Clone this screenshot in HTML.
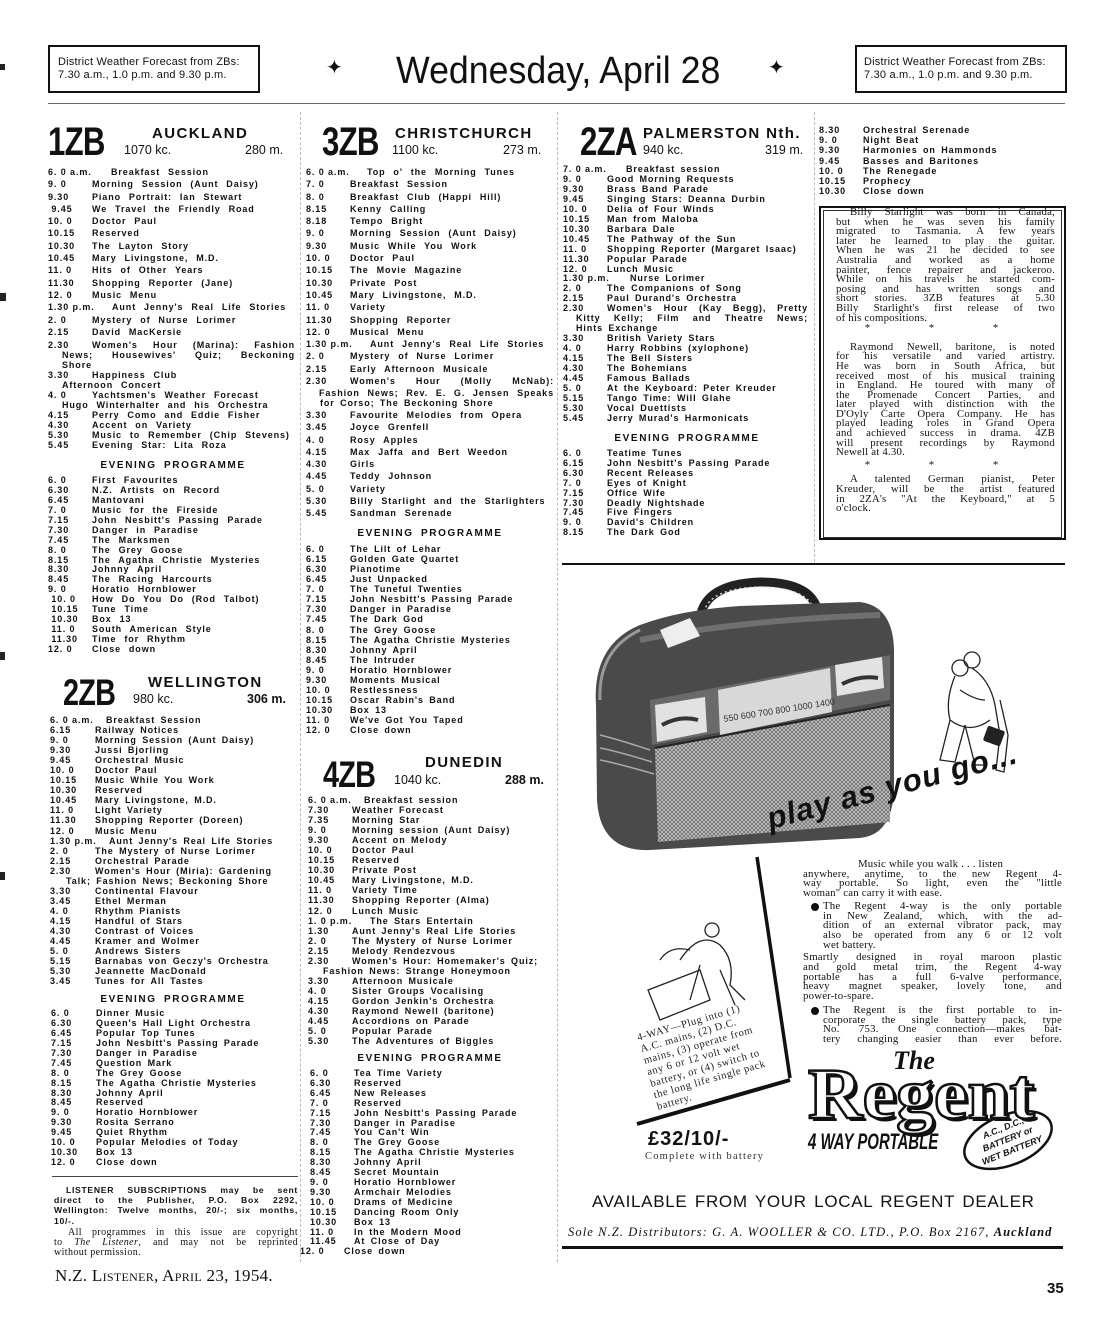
<!DOCTYPE html>
<html><head><meta charset="utf-8"><style>
body{margin:0;background:#fff}
#p{position:relative;width:1114px;height:1344px;overflow:hidden;background:#fff;color:#111;font-family:"Liberation Sans",sans-serif}
.a{position:absolute;white-space:nowrap}
.L{position:absolute;font-weight:bold;font-size:9px;letter-spacing:.9px;word-spacing:2px;white-space:nowrap;color:#111}
.L i{font-style:normal;display:inline-block;width:44px;word-spacing:0}
.w4{word-spacing:4.5px}
.j{text-align:justify;text-align-last:justify;white-space:normal}
.eh{position:absolute;font-weight:bold;font-size:10px;letter-spacing:1.6px;word-spacing:3px;text-align:center}
.big{position:absolute;font-weight:bold;font-size:40px;line-height:40px;transform-origin:0 0;transform:scaleX(.78);letter-spacing:-1px}
.city{position:absolute;font-weight:bold;font-size:15px;letter-spacing:1.4px;line-height:15px}
.kc{position:absolute;font-size:12.5px;line-height:13px}
.S{position:absolute;font-family:"Liberation Serif",serif;font-size:10.8px;letter-spacing:.2px;line-height:9.6px;color:#111}
.S div{text-align:justify;text-align-last:justify;white-space:nowrap}
.S div.e{text-align-last:left}
.st{text-align:center!important;text-align-last:center!important;letter-spacing:28px}
.T{position:absolute;font-family:"Liberation Serif",serif;font-size:10.8px;letter-spacing:.2px;line-height:9.7px;color:#111}
.T div{text-align:justify;text-align-last:justify;white-space:nowrap}
.T div.e{text-align-last:left}
</style></head><body><div id="p">

<div class="a" style="left:0;top:64px;width:5px;height:6px;background:#222"></div>
<div class="a" style="left:0;top:293px;width:6px;height:8px;background:#222"></div>
<div class="a" style="left:0;top:652px;width:5px;height:8px;background:#222"></div>
<div class="a" style="left:0;top:872px;width:5px;height:8px;background:#222"></div>

<!-- header -->
<div class="a" style="left:48px;top:45px;width:208px;height:44px;border:2px solid #111"></div>
<div class="a" style="left:58px;top:56px;font-size:11px;line-height:13px;letter-spacing:.2px">District Weather Forecast from ZBs:<br>7.30 a.m., 1.0 p.m. and 9.30 p.m.</div>
<div class="a" style="left:855px;top:45px;width:208px;height:44px;border:2px solid #111"></div>
<div class="a" style="left:864px;top:56px;font-size:11px;line-height:13px;letter-spacing:.2px">District Weather Forecast from ZBs:<br>7.30 a.m., 1.0 p.m. and 9.30 p.m.</div>
<div class="a" style="left:326px;top:55px;font-size:20px">&#10022;</div>
<div class="a" style="left:768px;top:55px;font-size:20px">&#10022;</div>
<div class="a" style="left:396px;top:50px;font-size:38px;line-height:42px;transform-origin:0 0;transform:scaleX(.94)">Wednesday, April 28</div>
<div class="a" style="left:48px;top:103px;width:1017px;height:1px;background:#666"></div>

<div class="a" style="left:300px;top:112px;width:1px;height:1150px;border-left:1px dashed #bbb"></div>
<div class="a" style="left:557px;top:112px;width:1px;height:1150px;border-left:1px dashed #bbb"></div>
<div class="a" style="left:814px;top:112px;width:1px;height:450px;border-left:1px dashed #bbb"></div>

<!-- 1ZB -->
<div class="big" style="left:48px;top:122px">1ZB</div>
<div class="city" style="left:152px;top:126px">AUCKLAND</div>
<div class="kc" style="left:124px;top:144px">1070 kc.</div>
<div class="kc" style="left:245px;top:144px">280 m.</div>
<div class="L w4" style="left:48px;top:166px;line-height:12.3px">
<div><i style="width:63px">6. 0 a.m.</i>Breakfast Session</div>
<div><i>9. 0</i>Morning Session (Aunt Daisy)</div>
<div><i>9.30</i>Piano Portrait: Ian Stewart</div>
<div><i>&nbsp;9.45</i>We Travel the Friendly Road</div>
<div><i>10. 0</i>Doctor Paul</div>
<div><i>10.15</i>Reserved</div>
<div><i>10.30</i>The Layton Story</div>
<div><i>10.45</i>Mary Livingstone, M.D.</div>
<div><i>11. 0</i>Hits of Other Years</div>
<div><i>11.30</i>Shopping Reporter (Jane)</div>
<div><i>12. 0</i>Music Menu</div>
<div><i style="width:64px">1.30 p.m.</i>Aunt Jenny's Real Life Stories</div>
<div><i>2. 0</i>Mystery of Nurse Lorimer</div>
<div><i>2.15</i>David MacKersie</div>
</div>
<div class="L w4" style="left:48px;top:340px;line-height:10px;width:247px">
<div class="j"><i>2.30</i>Women's Hour (Marina): Fashion</div>
<div class="j" style="padding-left:14px">News; Housewives' Quiz; Beckoning</div>
<div style="padding-left:14px">Shore</div>
<div><i>3.30</i>Happiness Club</div>
<div style="padding-left:14px">Afternoon Concert</div>
<div><i>4. 0</i>Yachtsmen's Weather Forecast</div>
<div style="padding-left:14px">Hugo Winterhalter and his Orchestra</div>
<div><i>4.15</i>Perry Como and Eddie Fisher</div>
<div><i>4.30</i>Accent on Variety</div>
<div><i>5.30</i>Music to Remember (Chip Stevens)</div>
<div><i>5.45</i>Evening Star: Lita Roza</div>
</div>
<div class="eh" style="left:48px;width:250px;top:460px">EVENING PROGRAMME</div>
<div class="L w4" style="left:48px;top:476px;line-height:9.94px">
<div><i>6. 0</i>First Favourites</div>
<div><i>6.30</i>N.Z. Artists on Record</div>
<div><i>6.45</i>Mantovani</div>
<div><i>7. 0</i>Music for the Fireside</div>
<div><i>7.15</i>John Nesbitt's Passing Parade</div>
<div><i>7.30</i>Danger in Paradise</div>
<div><i>7.45</i>The Marksmen</div>
<div><i>8. 0</i>The Grey Goose</div>
<div><i>8.15</i>The Agatha Christie Mysteries</div>
<div><i>8.30</i>Johnny April</div>
<div><i>8.45</i>The Racing Harcourts</div>
<div><i>9. 0</i>Horatio Hornblower</div>
<div><i>&nbsp;10. 0</i>How Do You Do (Rod Talbot)</div>
<div><i>&nbsp;10.15</i>Tune Time</div>
<div><i>&nbsp;10.30</i>Box 13</div>
<div><i>&nbsp;11. 0</i>South American Style</div>
<div><i>&nbsp;11.30</i>Time for Rhythm</div>
<div><i>12. 0</i>Close down</div>
</div>

<!-- 2ZB -->
<div class="big" style="left:63px;top:673px;font-size:37px">2ZB</div>
<div class="city" style="left:148px;top:675px">WELLINGTON</div>
<div class="kc" style="left:133px;top:693px">980 kc.</div>
<div class="kc" style="left:247px;top:693px;font-weight:bold">306 m.</div>
<div class="L" style="left:50px;top:715px;line-height:10.04px">
<div><i style="width:56px">6. 0 a.m.</i>Breakfast Session</div>
<div><i style="width:45px">6.15</i>Railway Notices</div>
<div><i style="width:45px">9. 0</i>Morning Session (Aunt Daisy)</div>
<div><i style="width:45px">9.30</i>Jussi Bjorling</div>
<div><i style="width:45px">9.45</i>Orchestral Music</div>
<div><i style="width:45px">10. 0</i>Doctor Paul</div>
<div><i style="width:45px">10.15</i>Music While You Work</div>
<div><i style="width:45px">10.30</i>Reserved</div>
<div><i style="width:45px">10.45</i>Mary Livingstone, M.D.</div>
<div><i style="width:45px">11. 0</i>Light Variety</div>
<div><i style="width:45px">11.30</i>Shopping Reporter (Doreen)</div>
<div><i style="width:45px">12. 0</i>Music Menu</div>
<div><i style="width:59px">1.30 p.m.</i>Aunt Jenny's Real Life Stories</div>
<div><i style="width:45px">2. 0</i>The Mystery of Nurse Lorimer</div>
<div><i style="width:45px">2.15</i>Orchestral Parade</div>
<div><i style="width:45px">2.30</i>Women's Hour (Miria): Gardening</div>
<div style="padding-left:16px">Talk; Fashion News; Beckoning Shore</div>
<div><i style="width:45px">3.30</i>Continental Flavour</div>
<div><i style="width:45px">3.45</i>Ethel Merman</div>
<div><i style="width:45px">4. 0</i>Rhythm Pianists</div>
<div><i style="width:45px">4.15</i>Handful of Stars</div>
<div><i style="width:45px">4.30</i>Contrast of Voices</div>
<div><i style="width:45px">4.45</i>Kramer and Wolmer</div>
<div><i style="width:45px">5. 0</i>Andrews Sisters</div>
<div><i style="width:45px">5.15</i>Barnabas von Geczy's Orchestra</div>
<div><i style="width:45px">5.30</i>Jeannette MacDonald</div>
<div><i style="width:45px">3.45</i>Tunes for All Tastes</div>
</div>
<div class="eh" style="left:48px;width:250px;top:994px">EVENING PROGRAMME</div>
<div class="L" style="left:51px;top:1009px;line-height:9.93px">
<div><i style="width:45px">6. 0</i>Dinner Music</div>
<div><i style="width:45px">6.30</i>Queen's Hall Light Orchestra</div>
<div><i style="width:45px">6.45</i>Popular Top Tunes</div>
<div><i style="width:45px">7.15</i>John Nesbitt's Passing Parade</div>
<div><i style="width:45px">7.30</i>Danger in Paradise</div>
<div><i style="width:45px">7.45</i>Question Mark</div>
<div><i style="width:45px">8. 0</i>The Grey Goose</div>
<div><i style="width:45px">8.15</i>The Agatha Christie Mysteries</div>
<div><i style="width:45px">8.30</i>Johnny April</div>
<div><i style="width:45px">8.45</i>Reserved</div>
<div><i style="width:45px">9. 0</i>Horatio Hornblower</div>
<div><i style="width:45px">9.30</i>Rosita Serrano</div>
<div><i style="width:45px">9.45</i>Quiet Rhythm</div>
<div><i style="width:45px">10. 0</i>Popular Melodies of Today</div>
<div><i style="width:45px">10.30</i>Box 13</div>
<div><i style="width:45px">12. 0</i>Close down</div>
</div>
<div class="a" style="left:52px;top:1176px;width:246px;height:1px;background:#444"></div>
<div class="L" style="left:54px;top:1185px;line-height:10.2px;width:244px;font-size:8.6px;letter-spacing:.7px">
<div class="j" style="padding-left:12px">LISTENER SUBSCRIPTIONS may be sent</div>
<div class="j">direct to the Publisher, P.O. Box 2292,</div>
<div class="j">Wellington: Twelve months, 20/-; six months,</div>
<div>10/-.</div>
</div>
<div class="S" style="left:54px;top:1228px;width:244px;font-size:10px;line-height:10px;letter-spacing:.4px">
<div style="padding-left:14px">All programmes in this issue are copyright</div>
<div>to <i>The Listener</i>, and may not be reprinted</div>
<div class="e">without permission.</div>
</div>
<div class="a" style="left:55px;top:1266px;font-family:'Liberation Serif',serif;font-size:17px;font-variant:small-caps;letter-spacing:.3px">N.Z. Listener, April 23, 1954.</div>

<!-- 3ZB -->
<div class="big" style="left:322px;top:122px">3ZB</div>
<div class="city" style="left:395px;top:126px">CHRISTCHURCH</div>
<div class="kc" style="left:392px;top:144px">1100 kc.</div>
<div class="kc" style="left:503px;top:144px">273 m.</div>
<div class="L w4" style="left:306px;top:166px;line-height:12.3px">
<div><i style="width:61px">6. 0 a.m.</i>Top o' the Morning Tunes</div>
<div><i>7. 0</i>Breakfast Session</div>
<div><i>8. 0</i>Breakfast Club (Happi Hill)</div>
<div><i>8.15</i>Kenny Calling</div>
<div><i>8.18</i>Tempo Bright</div>
<div><i>9. 0</i>Morning Session (Aunt Daisy)</div>
<div><i>9.30</i>Music While You Work</div>
<div><i>10. 0</i>Doctor Paul</div>
<div><i>10.15</i>The Movie Magazine</div>
<div><i>10.30</i>Private Post</div>
<div><i>10.45</i>Mary Livingstone, M.D.</div>
<div><i>11. 0</i>Variety</div>
<div><i>11.30</i>Shopping Reporter</div>
<div><i>12. 0</i>Musical Menu</div>
<div><i style="width:64px">1.30 p.m.</i>Aunt Jenny's Real Life Stories</div>
<div><i>2. 0</i>Mystery of Nurse Lorimer</div>
<div><i>2.15</i>Early Afternoon Musicale</div>
<div style="width:248px" class="j"><i>2.30</i>Women's Hour (Molly McNab):</div>
</div>
<div class="L" style="left:306px;top:388px;line-height:10px;width:248px">
<div class="j" style="padding-left:13px">Fashion News; Rev. E. G. Jensen Speaks</div>
<div style="padding-left:14px">for Corso; The Beckoning Shore</div>
</div>
<div class="L w4" style="left:306px;top:409px;line-height:12.3px">
<div><i>3.30</i>Favourite Melodies from Opera</div>
<div><i>3.45</i>Joyce Grenfell</div>
<div><i>4. 0</i>Rosy Apples</div>
<div><i>4.15</i>Max Jaffa and Bert Weedon</div>
<div><i>4.30</i>Girls</div>
<div><i>4.45</i>Teddy Johnson</div>
<div><i>5. 0</i>Variety</div>
<div><i>5.30</i>Billy Starlight and the Starlighters</div>
<div><i>5.45</i>Sandman Serenade</div>
</div>
<div class="eh" style="left:305px;width:250px;top:528px">EVENING PROGRAMME</div>
<div class="L" style="left:306px;top:544px;line-height:10.06px">
<div><i>6. 0</i>The Lilt of Lehar</div>
<div><i>6.15</i>Golden Gate Quartet</div>
<div><i>6.30</i>Pianotime</div>
<div><i>6.45</i>Just Unpacked</div>
<div><i>7. 0</i>The Tuneful Twenties</div>
<div><i>7.15</i>John Nesbitt's Passing Parade</div>
<div><i>7.30</i>Danger in Paradise</div>
<div><i>7.45</i>The Dark God</div>
<div><i>8. 0</i>The Grey Goose</div>
<div><i>8.15</i>The Agatha Christie Mysteries</div>
<div><i>8.30</i>Johnny April</div>
<div><i>8.45</i>The Intruder</div>
<div><i>9. 0</i>Horatio Hornblower</div>
<div><i>9.30</i>Moments Musical</div>
<div><i>10. 0</i>Restlessness</div>
<div><i>10.15</i>Oscar Rabin's Band</div>
<div><i>10.30</i>Box 13</div>
<div><i>11. 0</i>We've Got You Taped</div>
<div><i>12. 0</i>Close down</div>
</div>

<!-- 4ZB -->
<div class="big" style="left:323px;top:755px;font-size:37px">4ZB</div>
<div class="city" style="left:425px;top:755px">DUNEDIN</div>
<div class="kc" style="left:394px;top:774px">1040 kc.</div>
<div class="kc" style="left:505px;top:774px;font-weight:bold">288 m.</div>
<div class="L" style="left:308px;top:795px;line-height:10.04px">
<div><i style="width:56px">6. 0 a.m.</i>Breakfast session</div>
<div><i style="width:44px">7.30</i>Weather Forecast</div>
<div><i style="width:44px">7.35</i>Morning Star</div>
<div><i style="width:44px">9. 0</i>Morning session (Aunt Daisy)</div>
<div><i style="width:44px">9.30</i>Accent on Melody</div>
<div><i style="width:44px">10. 0</i>Doctor Paul</div>
<div><i style="width:44px">10.15</i>Reserved</div>
<div><i style="width:44px">10.30</i>Private Post</div>
<div><i style="width:44px">10.45</i>Mary Livingstone, M.D.</div>
<div><i style="width:44px">11. 0</i>Variety Time</div>
<div><i style="width:44px">11.30</i>Shopping Reporter (Alma)</div>
<div><i style="width:44px">12. 0</i>Lunch Music</div>
<div><i style="width:62px">1. 0 p.m.</i>The Stars Entertain</div>
<div><i style="width:44px">1.30</i>Aunt Jenny's Real Life Stories</div>
<div><i style="width:44px">2. 0</i>The Mystery of Nurse Lorimer</div>
<div><i style="width:44px">2.15</i>Melody Rendezvous</div>
<div><i style="width:44px">2.30</i>Women's Hour: Homemaker's Quiz;</div>
<div style="padding-left:15px">Fashion News: Strange Honeymoon</div>
<div><i style="width:44px">3.30</i>Afternoon Musicale</div>
<div><i style="width:44px">4. 0</i>Sister Groups Vocalising</div>
<div><i style="width:44px">4.15</i>Gordon Jenkin's Orchestra</div>
<div><i style="width:44px">4.30</i>Raymond Newell (baritone)</div>
<div><i style="width:44px">4.45</i>Accordions on Parade</div>
<div><i style="width:44px">5. 0</i>Popular Parade</div>
<div><i style="width:44px">5.30</i>The Adventures of Biggles</div>
</div>
<div class="eh" style="left:305px;width:250px;top:1053px">EVENING PROGRAMME</div>
<div class="L" style="left:310px;top:1069px;line-height:9.9px">
<div><i>6. 0</i>Tea Time Variety</div>
<div><i>6.30</i>Reserved</div>
<div><i>6.45</i>New Releases</div>
<div><i>7. 0</i>Reserved</div>
<div><i>7.15</i>John Nesbitt's Passing Parade</div>
<div><i>7.30</i>Danger in Paradise</div>
<div><i>7.45</i>You Can't Win</div>
<div><i>8. 0</i>The Grey Goose</div>
<div><i>8.15</i>The Agatha Christie Mysteries</div>
<div><i>8.30</i>Johnny April</div>
<div><i>8.45</i>Secret Mountain</div>
<div><i>9. 0</i>Horatio Hornblower</div>
<div><i>9.30</i>Armchair Melodies</div>
<div><i>10. 0</i>Drams of Medicine</div>
<div><i>10.15</i>Dancing Room Only</div>
<div><i>10.30</i>Box 13</div>
<div><i>11. 0</i>In the Modern Mood</div>
<div><i>11.45</i>At Close of Day</div>
<div style="margin-left:-10px"><i style="width:44px">12. 0</i>Close down</div>
</div>

<!-- 2ZA -->
<div class="big" style="left:580px;top:122px">2ZA</div>
<div class="city" style="left:643px;top:126px">PALMERSTON Nth.</div>
<div class="kc" style="left:643px;top:144px">940 kc.</div>
<div class="kc" style="left:765px;top:144px">319 m.</div>
<div class="L" style="left:563px;top:165px;line-height:9.96px;width:245px">
<div><i style="width:63px">7. 0 a.m.</i>Breakfast session</div>
<div><i>9. 0</i>Good Morning Requests</div>
<div><i>9.30</i>Brass Band Parade</div>
<div><i>9.45</i>Singing Stars: Deanna Durbin</div>
<div><i>10. 0</i>Delia of Four Winds</div>
<div><i>10.15</i>Man from Maloba</div>
<div><i>10.30</i>Barbara Dale</div>
<div><i>10.45</i>The Pathway of the Sun</div>
<div><i>11. 0</i>Shopping Reporter (Margaret Isaac)</div>
<div><i>11.30</i>Popular Parade</div>
<div><i>12. 0</i>Lunch Music</div>
<div><i style="width:67px">1.30 p.m.</i>Nurse Lorimer</div>
<div><i>2. 0</i>The Companions of Song</div>
<div><i>2.15</i>Paul Durand's Orchestra</div>
<div class="j"><i>2.30</i>Women's Hour (Kay Begg), Pretty</div>
<div class="j" style="padding-left:13px">Kitty Kelly; Film and Theatre News;</div>
<div style="padding-left:13px">Hints Exchange</div>
<div><i>3.30</i>British Variety Stars</div>
<div><i>4. 0</i>Harry Robbins (xylophone)</div>
<div><i>4.15</i>The Bell Sisters</div>
<div><i>4.30</i>The Bohemians</div>
<div><i>4.45</i>Famous Ballads</div>
<div><i>5. 0</i>At the Keyboard: Peter Kreuder</div>
<div><i>5.15</i>Tango Time: Will Glahe</div>
<div><i>5.30</i>Vocal Duettists</div>
<div><i>5.45</i>Jerry Murad's Harmonicats</div>
</div>
<div class="eh" style="left:562px;width:250px;top:433px">EVENING PROGRAMME</div>
<div class="L" style="left:563px;top:449px;line-height:9.9px">
<div><i>6. 0</i>Teatime Tunes</div>
<div><i>6.15</i>John Nesbitt's Passing Parade</div>
<div><i>6.30</i>Recent Releases</div>
<div><i>7. 0</i>Eyes of Knight</div>
<div><i>7.15</i>Office Wife</div>
<div><i>7.30</i>Deadly Nightshade</div>
<div><i>7.45</i>Five Fingers</div>
<div><i>9. 0</i>David's Children</div>
<div><i>8.15</i>The Dark God</div>
</div>

<!-- col 4 -->
<div class="L" style="left:819px;top:125px;line-height:10.2px">
<div><i>8.30</i>Orchestral Serenade</div>
<div><i>9. 0</i>Night Beat</div>
<div><i>9.30</i>Harmonies on Hammonds</div>
<div><i>9.45</i>Basses and Baritones</div>
<div><i>10. 0</i>The Renegade</div>
<div><i>10.15</i>Prophecy</div>
<div><i>10.30</i>Close down</div>
</div>
<div class="a" style="left:819px;top:206px;width:243px;height:330px;border:2px solid #111"></div>
<div class="a" style="left:823px;top:210px;width:237px;height:326px;border:1px solid #333"></div>
<div class="S" style="left:836px;top:208px;width:219px">
<div style="padding-left:14px">Billy Starlight was born in Canada,</div>
<div>but when he was seven his family</div>
<div>migrated to Tasmania. A few years</div>
<div>later he learned to play the guitar.</div>
<div>When he was 21 he decided to see</div>
<div>Australia and worked as a home</div>
<div>painter, fence repairer and jackeroo.</div>
<div>While on his travels he started com-</div>
<div>posing and has written songs and</div>
<div>short stories. 3ZB features at 5.30</div>
<div>Billy Starlight's first release of two</div>
<div class="e">of his compositions.</div>
<div class="st" style="margin-top:1px">* * *</div>
<div style="padding-left:14px;margin-top:9px">Raymond Newell, baritone, is noted</div>
<div>for his versatile and varied artistry.</div>
<div>He was born in South Africa, but</div>
<div>received most of his musical training</div>
<div>in England. He toured with many of</div>
<div>the Promenade Concert Parties, and</div>
<div>later played with distinction with the</div>
<div>D'Oyly Carte Opera Company. He has</div>
<div>played leading roles in Grand Opera</div>
<div>and achieved success in drama. 4ZB</div>
<div>will present recordings by Raymond</div>
<div class="e">Newell at 4.30.</div>
<div class="st" style="margin-top:3px">* * *</div>
<div style="padding-left:14px;margin-top:5px">A talented German pianist, Peter</div>
<div>Kreuder, will be the artist featured</div>
<div>in 2ZA's "At the Keyboard," at 5</div>
<div class="e">o'clock.</div>
</div>

<!-- ad -->
<div class="a" style="left:562px;top:563px;width:503px;height:2px;background:#111"></div>
<div class="a" style="left:562px;top:1246px;width:501px;height:3px;background:#111"></div>
<svg class="a" style="left:0;top:0" width="1114" height="1344" viewBox="0 0 1114 1344">
 <defs>
  <pattern id="g" width="4" height="4" patternUnits="userSpaceOnUse"><rect width="4" height="4" fill="#c0c0c0"/><path d="M0 4L4 0M0 0L4 4" stroke="#666" stroke-width=".7"/></pattern>
 </defs>
 <path d="M700 618 Q705 584 760 582 Q812 582 818 612" fill="none" stroke="#222" stroke-width="9"/>
 <path d="M704 612 Q710 588 760 587 Q808 588 814 610" fill="none" stroke="#ddd" stroke-width="1.5" stroke-dasharray="2 3"/>
 <path d="M596 705 Q592 645 640 625 Q680 610 740 606 L860 602 Q893 606 894 650 L894 790 Q892 835 860 838 L650 850 Q600 852 597 800 Z" fill="#4a4a4a"/>
 <path d="M600 700 Q598 650 640 630" fill="none" stroke="#999" stroke-width="3"/>
 <path d="M640 640 Q740 620 880 615" fill="none" stroke="#8a8a8a" stroke-width="6" opacity=".6"/>
 <path d="M600 735 Q620 740 650 750 M600 748 Q620 752 652 762 M600 760 Q620 764 654 774" stroke="#aaa" stroke-width="1.5" fill="none"/>
 <path d="M660 630 L690 618 L700 636 L668 648 Z" fill="#eee"/>
 <path d="M650 700 L890 655 L890 700 L652 745 Z" fill="#6a6a6a"/>
 <path d="M718 690 L830 668 L832 712 L720 735 Z" fill="#d8d8d8"/>
 <text x="724" y="722" font-family="Liberation Sans" font-size="9" fill="#333" transform="rotate(-9 724 722)">550 600 700 800 1000 1400</text>
 <path d="M655 705 L705 697 L707 732 L657 742 Z" fill="#e2e2e2"/>
 <path d="M662 725 Q680 715 698 720" stroke="#333" stroke-width="4" fill="none"/>
 <path d="M835 665 L882 657 L884 688 L837 696 Z" fill="#e2e2e2"/>
 <path d="M842 684 Q860 675 878 678" stroke="#333" stroke-width="4" fill="none"/>
 <path d="M655 748 L890 705 L890 822 L658 842 Z" fill="url(#g)"/>
 <path d="M655 748 L890 705" stroke="#222" stroke-width="2"/>
 <g fill="none" stroke="#222" stroke-width="1.3">
  <circle cx="960" cy="668" r="8"/><circle cx="972" cy="660" r="8"/>
  <path d="M955 676 Q945 700 950 720 L940 760 L955 762 L965 725"/>
  <path d="M972 668 Q990 680 995 705 L1000 735 L996 770 L1004 772 L1008 735 L1000 700"/>
  <path d="M960 690 Q975 700 985 700"/>
  <path d="M950 720 Q970 735 990 720"/>
  <path d="M965 725 L975 765 L985 765"/>
 </g>
 <rect x="985" y="728" width="18" height="16" rx="2" fill="#222" transform="rotate(20 994 736)"/>
 <path d="M757 857 L790 1078" stroke="#111" stroke-width="3.5" fill="none"/>
 <path d="M637 1124 L790 1080" stroke="#111" stroke-width="4" fill="none"/>
 <g fill="none" stroke="#222" stroke-width="1.3">
  <path d="M648 990 L700 970 L710 1000 L660 1020 Z"/>
  <path d="M680 960 Q700 930 720 945 Q735 960 730 985 L745 1000"/>
  <path d="M690 950 Q670 945 660 960"/>
  <circle cx="712" cy="930" r="7"/>
  <path d="M700 965 L690 1000 M720 970 L735 1005"/>
 </g>
 <ellipse cx="1008" cy="1140" rx="46" ry="25" transform="rotate(-22 1008 1140)" fill="none" stroke="#111" stroke-width="2.5"/>
 <g font-family="Liberation Sans" font-weight="bold" font-style="italic" font-size="9" fill="#111" transform="rotate(-22 1008 1140)">
  <text x="1008" y="1130" text-anchor="middle">A.C., D.C.,</text>
  <text x="1008" y="1142" text-anchor="middle">BATTERY or</text>
  <text x="1008" y="1154" text-anchor="middle">WET BATTERY</text>
 </g>
</svg>
<div class="a" style="left:772px;top:802px;font-weight:bold;font-style:italic;font-size:31px;line-height:34px;transform-origin:0 100%;transform:rotate(-15deg);letter-spacing:1px">play as you go...</div>
<div class="T" style="left:803px;top:860px;width:259px">
<div class="e" style="padding-left:55px">Music while you walk . . . listen</div>
<div>anywhere, anytime, to the new Regent 4-</div>
<div>way portable. So light, even the "little</div>
<div class="e">woman" can carry it with ease.</div>
<div style="padding-left:20px;margin-top:3px;position:relative"><span style="position:absolute;left:8px;top:1px;width:8px;height:8px;border-radius:50%;background:#111"></span>The Regent 4-way is the only portable</div>
<div style="padding-left:20px">in New Zealand, which, with the ad-</div>
<div style="padding-left:20px">dition of an external vibrator pack, may</div>
<div style="padding-left:20px">also be operated from any 6 or 12 volt</div>
<div class="e" style="padding-left:20px">wet battery.</div>
<div style="margin-top:3px">Smartly designed in royal maroon plastic</div>
<div>and gold metal trim, the Regent 4-way</div>
<div>portable has a full 6-valve performance,</div>
<div>heavy magnet speaker, lovely tone, and</div>
<div class="e">power-to-spare.</div>
<div style="padding-left:20px;margin-top:4px;position:relative"><span style="position:absolute;left:8px;top:1px;width:8px;height:8px;border-radius:50%;background:#111"></span>The Regent is the first portable to in-</div>
<div style="padding-left:20px">corporate the single battery pack, type</div>
<div style="padding-left:20px">No. 753. One connection—makes bat-</div>
<div style="padding-left:20px">tery changing easier than ever before.</div>
</div>
<div class="a" style="left:893px;top:1046px;font-family:'Liberation Serif',serif;font-style:italic;font-weight:bold;font-size:26px">The</div>
<div class="a" style="left:808px;top:1058px;font-family:'Liberation Serif',serif;font-weight:bold;font-size:72px;line-height:72px;color:#fff;-webkit-text-stroke:2.5px #111;text-shadow:3px 3px 0 #111;transform-origin:0 0;transform:scaleX(1.05)">Regent</div>
<div class="a" style="left:808px;top:1130px;font-weight:bold;font-style:italic;font-size:22px;line-height:24px;transform-origin:0 0;transform:scaleX(.68)">4 WAY PORTABLE</div>
<div class="a" style="left:636px;top:1033px;font-family:'Liberation Serif',serif;font-size:10.5px;line-height:12px;letter-spacing:.6px;transform-origin:0 0;transform:rotate(-16deg);color:#222">4-WAY—Plug into (1)<br>A.C. mains, (2) D.C.<br>mains, (3) operate from<br>any 6 or 12 volt wet<br>battery, or (4) switch to<br>the long life single pack<br>battery.</div>
<div class="a" style="left:648px;top:1128px;font-weight:bold;font-size:20px;letter-spacing:1px">£32/10/-</div>
<div class="a" style="left:645px;top:1151px;font-family:'Liberation Serif',serif;font-size:10.5px;letter-spacing:1.2px;color:#333">Complete with battery</div>
<div class="a" style="left:592px;top:1191px;font-size:17px;line-height:22px;letter-spacing:.7px;word-spacing:2px">AVAILABLE FROM YOUR LOCAL REGENT DEALER</div>
<div class="a" style="left:568px;top:1225px;font-family:'Liberation Serif',serif;font-style:italic;font-size:12.5px;letter-spacing:1.1px">Sole N.Z. Distributors: G. A. WOOLLER &amp; CO. LTD., P.O. Box 2167, <b>Auckland</b></div>

<div class="a" style="left:1047px;top:1280px;font-weight:bold;font-size:15px">35</div>
</div></body></html>
